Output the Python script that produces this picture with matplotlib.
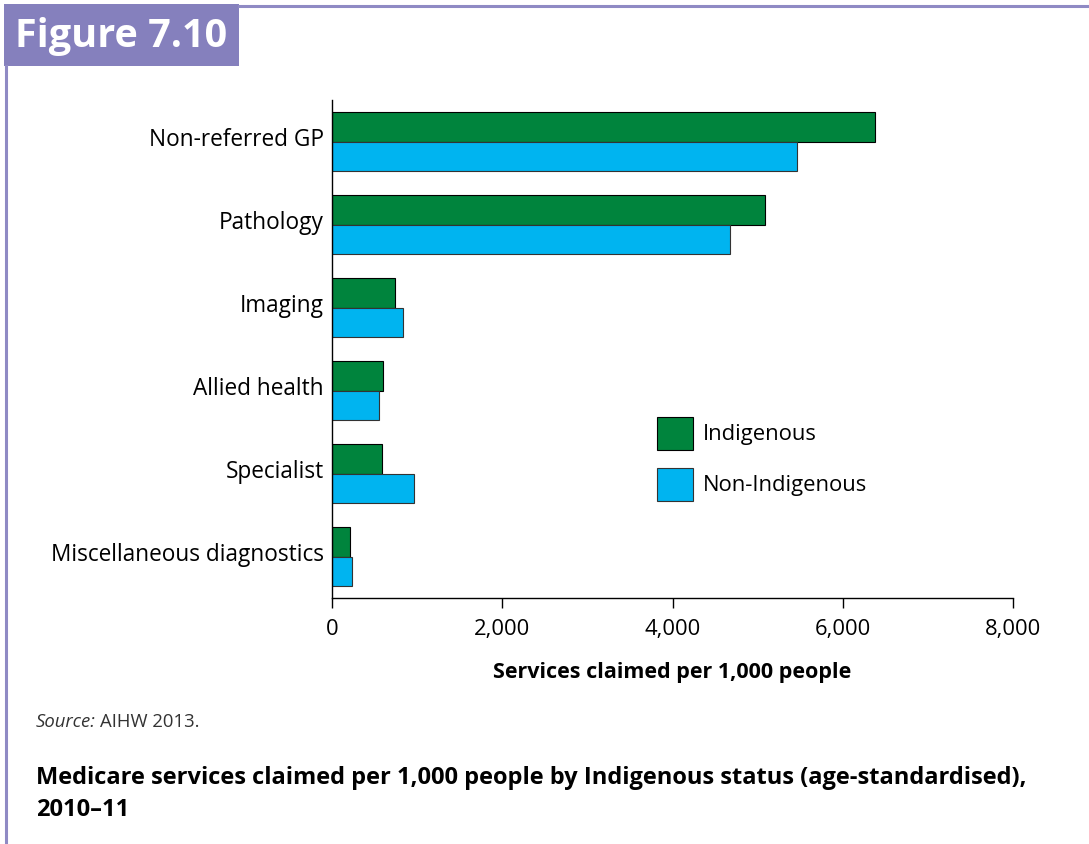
import numpy as np
import matplotlib.pyplot as plt
from matplotlib.patches import Rectangle
from matplotlib.lines import Line2D

# Data (services claimed per 1,000 people)
categories = ['Non-referred GP', 'Pathology', 'Imaging', 'Allied health',
              'Specialist', 'Miscellaneous diagnostics']
indigenous = [6380, 5090, 737, 603, 588, 208]
non_indigenous = [5465, 4675, 838, 556, 960, 231]
xticks = [0, 2000, 4000, 6000, 8000]

green = '#00843D'
blue = '#00B4F0'
purple = '#8580BD'

plt.rcParams['font.family'] = ['Open Sans', 'DejaVu Sans']

fig = plt.figure(figsize=(10.89, 8.44), dpi=100)
W, H = 1089, 844


def px(x, y):
    # pixel coords (top-left origin) -> figure fraction
    return x / W, 1 - y / H


ax = fig.add_axes([332 / W, 1 - 598 / H, (1013 - 332) / W, (598 - 100) / H])

y = np.arange(len(categories))
h = 0.35
ax.barh(y - h / 2, indigenous, height=h, color=green, edgecolor='black',
        linewidth=0.8, label='Indigenous')
ax.barh(y + h / 2, non_indigenous, height=h, color=blue, edgecolor='#333333',
        linewidth=0.8, label='Non-Indigenous')

ax.set_ylim(len(categories) - 0.5, -0.5)
ax.set_xlim(0, 8000)
ax.set_yticks(y - 0.06)
ax.set_yticklabels(categories, fontsize=16.3)
ax.set_xticks(xticks)
ax.set_xticklabels(['{:,}'.format(v) for v in xticks], fontsize=15.8)
ax.tick_params(axis='y', length=0, pad=6)
ax.tick_params(axis='x', length=7, width=1, direction='out', pad=8)
for s in ['top', 'right']:
    ax.spines[s].set_visible(False)
for s in ['left', 'bottom']:
    ax.spines[s].set_linewidth(1)
ax.set_xlabel('Services claimed per 1,000 people', fontsize=15.5,
              fontweight='bold', labelpad=16)

leg = ax.legend(loc='upper left', bbox_to_anchor=((648 - 332) / (1013 - 332),
                                                  (598 - 408) / (598 - 100)),
                frameon=False, fontsize=15.8, handlelength=1.65,
                handleheight=1.95, labelspacing=0.8, handletextpad=0.45,
                borderaxespad=0)

# Frame decoration: header box and purple rules
fig.add_artist(Rectangle(px(4, 66), 235 / W, 62 / H, transform=fig.transFigure,
                         facecolor=purple, edgecolor='none'))
fig.add_artist(Line2D([239 / W, 1], [1 - 5.5 / H] * 2, transform=fig.transFigure,
                      color='#8F8AC4', linewidth=2.2))
fig.add_artist(Line2D([6 / W] * 2, [0, 1 - 66 / H], transform=fig.transFigure,
                      color='#8F8AC4', linewidth=2.2))
fig.text(*px(15, 37), 'Figure 7.10', color='white', fontsize=28.5,
         fontweight='bold', va='center', ha='left')

# Source and caption
src = fig.text(*px(36, 722), 'Source:', fontsize=13.3, style='italic',
               color='#333333', va='center')
fig.add_artist(plt.Annotation('AIHW 2013.', xy=(1, 0.5), xycoords=src,
                              xytext=(3, 0), textcoords='offset points',
                              fontsize=13.3, color='#333333', va='center'))
fig.text(*px(36, 794), 'Medicare services claimed per 1,000 people by Indigenous '
         'status (age-standardised),\n2010\u201311', fontsize=17,
         fontweight='bold', va='center', linespacing=1.45)

fig.savefig('out.png', dpi=100)
